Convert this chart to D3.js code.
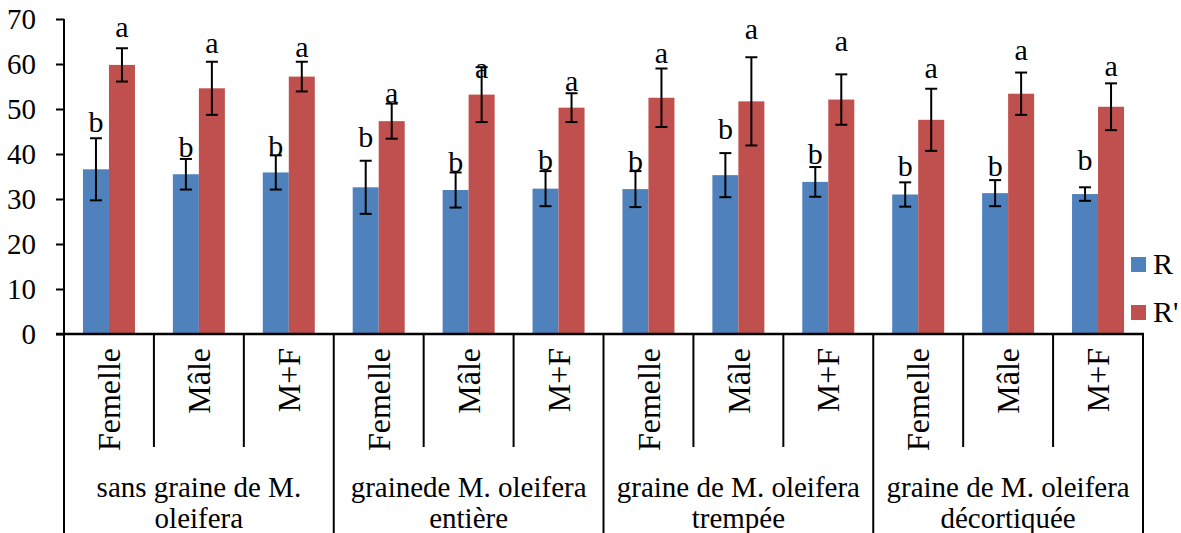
<!DOCTYPE html>
<html>
<head>
<meta charset="utf-8">
<script src="https://cdn.jsdelivr.net/npm/d3@7"></script>
<style>
  html, body { margin: 0; padding: 0; background: #ffffff; }
  svg { display: block; }
</style>
</head>
<body>
<svg id="chart" width="1181" height="533"></svg>
<script>
// Treatment groups (two-line labels) and sub-categories
const groups = [
  ["sans graine de M.", "oleifera"],
  ["grainede M. oleifera", "entière"],
  ["graine de M. oleifera", "trempée"],
  ["graine de M. oleifera", "décortiquée"]
];
const sexes = ["Femelle", "Mâle", "M+F"];

// Series R and R' with their error (± SD)
const seriesNames = ["R", "R'"];
const valuesR   = [36.6, 35.5, 35.9, 32.6, 32.0, 32.3, 32.2, 35.3, 33.8, 31.0, 31.3, 31.1];
const errorsR   = [6.9, 3.4, 3.8, 5.9, 3.9, 3.9, 4.0, 4.9, 3.3, 2.7, 2.9, 1.5];
const valuesRp  = [59.8, 54.6, 57.2, 47.3, 53.2, 50.3, 52.5, 51.7, 52.1, 47.6, 53.4, 50.5];
const errorsRp  = [3.7, 5.9, 3.3, 3.9, 6.1, 3.2, 6.5, 9.8, 5.6, 6.9, 4.7, 5.2];

// Significance letters and the height (in axis units) where each one sits
const lettersR  = ["b","b","b","b","b","b","b","b","b","b","b","b"];
const lettersRp = ["a","a","a","a","a","a","a","a","a","a","a","a"];
const letterAtR  = [45.0, 39.4, 39.6, 41.6, 36.1, 36.4, 36.3, 43.3, 37.8, 35.1, 35.1, 36.4];
const letterAtRp = [66.1, 62.4, 61.5, 51.3, 57.0, 54.1, 60.2, 65.5, 63.0, 57.0, 61.0, 57.3];

const yTicks = [0, 10, 20, 30, 40, 50, 60, 70];

// ---- layout ----
const serif = "Liberation Serif";
const colors = ["#4F81BD", "#C0504D"];
const plotLeft = 64, plotRight = 1143, plotTop = 19, plotBase = 334;
const svg = d3.select("#chart");

const categories = d3.range(groups.length * sexes.length);
const x = d3.scaleBand().domain(categories).range([plotLeft, plotRight]).padding(0);
const bw = x.bandwidth();
const pairW = 52;
const xs = d3.scaleBand().domain([0, 1]).range([(bw - pairW) / 2, (bw + pairW) / 2]).padding(0);
const y = d3.scaleLinear().domain([0, 70]).range([plotBase, plotTop]);

const series = [
  { vals: valuesR,  errs: errorsR,  letters: lettersR,  at: letterAtR },
  { vals: valuesRp, errs: errorsRp, letters: lettersRp, at: letterAtRp }
];

// bars
series.forEach((s, si) => {
  svg.append("g").selectAll("rect")
    .data(s.vals)
    .join("rect")
    .attr("x", (d, i) => x(i) + xs(si))
    .attr("y", d => y(d))
    .attr("width", xs.bandwidth())
    .attr("height", d => plotBase - y(d))
    .attr("fill", colors[si]);
});

// error bars
series.forEach((s, si) => {
  const g = svg.append("g").attr("stroke", "#000").attr("stroke-width", 2);
  s.vals.forEach((v, i) => {
    const cx = x(i) + xs(si) + xs.bandwidth() / 2;
    const hi = y(v + s.errs[i]), lo = y(v - s.errs[i]);
    g.append("line").attr("x1", cx).attr("x2", cx).attr("y1", hi).attr("y2", lo);
    g.append("line").attr("x1", cx - 6).attr("x2", cx + 6).attr("y1", hi).attr("y2", hi);
    g.append("line").attr("x1", cx - 6).attr("x2", cx + 6).attr("y1", lo).attr("y2", lo);
  });
});

// letters
series.forEach((s, si) => {
  svg.append("g").selectAll("text")
    .data(s.letters)
    .join("text")
    .attr("x", (d, i) => x(i) + xs(si) + xs.bandwidth() / 2)
    .attr("y", (d, i) => y(s.at[i]))
    .attr("text-anchor", "middle")
    .attr("font-family", serif)
    .attr("font-size", 30)
    .attr("fill", "#000")
    .text(d => d);
});

// y axis
const yAxis = svg.append("g")
  .attr("transform", `translate(${plotLeft},0)`)
  .call(d3.axisLeft(y).tickValues(yTicks).tickSize(8).tickPadding(20).tickFormat(d3.format("d")));
yAxis.attr("font-family", serif).attr("font-size", 29);
yAxis.select(".domain").remove();
yAxis.selectAll(".tick line").attr("stroke", "#000").attr("stroke-width", 2);
yAxis.selectAll(".tick text")
  .attr("font-family", serif)
  .attr("font-size", 29)
  .attr("fill", "#000");

svg.append("line")
  .attr("x1", plotLeft).attr("x2", plotLeft).attr("y1", plotTop).attr("y2", 533)
  .attr("stroke", "#000").attr("stroke-width", 2);

// x axis line
svg.append("line")
  .attr("x1", plotLeft - 8).attr("x2", plotRight + 1).attr("y1", plotBase).attr("y2", plotBase)
  .attr("stroke", "#000").attr("stroke-width", 2.5);

// category dividers (short) and group dividers (full height)
categories.concat([categories.length]).forEach(i => {
  if (i === 0) return;
  const xx = i < categories.length ? x(i) : plotRight;
  const isGroup = i % sexes.length === 0;
  svg.append("line")
    .attr("x1", xx).attr("x2", xx)
    .attr("y1", plotBase).attr("y2", isGroup ? 533 : 447)
    .attr("stroke", "#000").attr("stroke-width", 2);
});

// rotated sub-category labels
svg.append("g").selectAll("text")
  .data(categories)
  .join("text")
  .attr("transform", i => `translate(${x(i) + bw / 2},348) rotate(-90)`)
  .attr("text-anchor", "end")
  .attr("dy", "0.35em")
  .attr("font-family", serif)
  .attr("font-size", 32)
  .attr("fill", "#000")
  .text(i => sexes[i % sexes.length]);

// group labels
groups.forEach((lines, gi) => {
  const cx = x(gi * sexes.length) + bw * sexes.length / 2;
  lines.forEach((t, li) => {
    svg.append("text")
      .attr("x", cx).attr("y", 497 + li * 31)
      .attr("text-anchor", "middle")
      .attr("font-family", serif)
      .attr("font-size", 29)
      .attr("fill", "#000")
      .text(t);
  });
});

// legend
const legend = svg.append("g");
seriesNames.forEach((name, si) => {
  const ly = 257 + si * 48;
  legend.append("rect").attr("x", 1131).attr("y", ly).attr("width", 15).attr("height", 15).attr("fill", colors[si]);
  legend.append("text").attr("x", 1153).attr("y", ly + 17)
    .attr("font-family", serif).attr("font-size", 30).attr("fill", "#000").text(name);
});
</script>
</body>
</html>
